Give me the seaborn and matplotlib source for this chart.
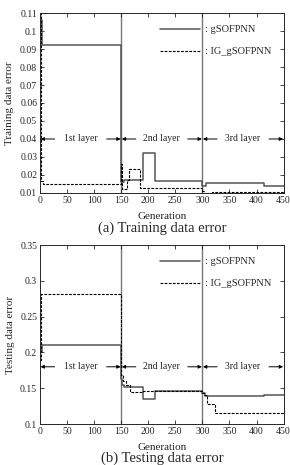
import numpy as np
import pandas as pd
import matplotlib
matplotlib.use('agg')
import matplotlib.pyplot as plt
import seaborn as sns

# training error (top panel)
train_g_gen = [0, 3, 150, 155, 190, 213, 300, 306, 413, 450]
train_g_err = [0.106, 0.092, 0.016, 0.017, 0.032, 0.0165, 0.0137, 0.0156, 0.014, 0.014]
train_ig_gen = [0, 1, 5, 150, 151, 160, 164, 185, 300, 303, 318, 450]
train_ig_err = [0.11, 0.0165, 0.015, 0.026, 0.0122, 0.017, 0.0233, 0.013, 0.011, 0.0102, 0.0108, 0.0108]

# testing error (bottom panel)
test_g_gen = [0, 3, 150, 152, 156, 190, 213, 300, 305, 413, 450]
test_g_err = [0.2, 0.21, 0.163, 0.155, 0.152, 0.1345, 0.146, 0.143, 0.1396, 0.141, 0.141]
test_ig_gen = [0, 2, 150, 153, 158, 166, 190, 300, 303, 309, 323, 450]
test_ig_err = [0.19, 0.282, 0.168, 0.16, 0.155, 0.1445, 0.146, 0.143, 0.14, 0.128, 0.1158, 0.1158]

layer_names = ["1st layer", "2nd layer", "3rd layer"]
layer_bounds = [0, 150, 300, 450]
series_names = [": gSOFPNN", ": IG_gSOFPNN"]

sns.set_style("ticks")
plt.rcParams['font.family'] = ['Liberation Serif', 'DejaVu Serif']
plt.rcParams['xtick.direction'] = 'in'
plt.rcParams['ytick.direction'] = 'in'

fig = plt.figure(figsize=(2.9, 4.65), dpi=100)
ax1 = fig.add_axes([0.138, 0.585, 0.84, 0.387])
ax2 = fig.add_axes([0.138, 0.088, 0.84, 0.385])


def draw_panel(ax, g_gen, g_err, ig_gen, ig_err, ylim, yticks, ylabel, layer_y):
    sns.lineplot(x=g_gen, y=g_err, ax=ax, drawstyle='steps-post', estimator=None,
                 color='#555555', lw=1.1, label=series_names[0])
    sns.lineplot(x=ig_gen, y=ig_err, ax=ax, drawstyle='steps-post', estimator=None,
                 color='black', lw=0.8, ls=(0, (2.5, 1.2)), label=series_names[1])
    for b in layer_bounds[1:3]:
        ax.axvline(b, color='#777777', lw=1.0, zorder=0)
    ax.set_xlim(0, 450)
    ax.set_ylim(*ylim)
    ax.set_xticks(range(0, 451, 50))
    ax.set_yticks(yticks)
    ax.set_yticklabels([f"{t:g}" for t in yticks])
    ax.tick_params(labelsize=7, length=3, width=0.6, top=True, right=True, pad=2)
    ax.set_xlabel("Generation", fontsize=8, labelpad=5)
    ax.set_ylabel(ylabel, fontsize=8, labelpad=4)
    for sp in ax.spines.values():
        sp.set_linewidth(0.7)
    # layer annotations
    for i, name in enumerate(layer_names):
        lo, hi = layer_bounds[i], layer_bounds[i + 1]
        mid = (lo + hi) / 2
        ax.text(mid, layer_y, name, ha='center', va='center', fontsize=7)
        ax.annotate('', xy=(lo + 1, layer_y), xytext=(lo + 27, layer_y),
                    arrowprops=dict(arrowstyle='-|>', color='black', lw=0.7,
                                    mutation_scale=5, shrinkA=0, shrinkB=0))
        ax.annotate('', xy=(hi - 1, layer_y), xytext=(hi - 27, layer_y),
                    arrowprops=dict(arrowstyle='-|>', color='black', lw=0.7,
                                    mutation_scale=5, shrinkA=0, shrinkB=0))
    ax.legend(loc='upper left', bbox_to_anchor=(0.455, 0.985), frameon=False,
              fontsize=7.5, handlelength=3.8, handletextpad=0.5, labelspacing=1.2)


draw_panel(ax1, train_g_gen, train_g_err, train_ig_gen, train_ig_err,
           (0.01, 0.11), [round(0.01 * k, 2) for k in range(1, 12)],
           "Training data error", 0.04)
draw_panel(ax2, test_g_gen, test_g_err, test_ig_gen, test_ig_err,
           (0.1, 0.35), [0.1, 0.15, 0.2, 0.25, 0.3, 0.35],
           "Testing data error", 0.18)

fig.text(0.56, 0.509, "(a) Training data error", ha='center', va='center', fontsize=10.5)
fig.text(0.56, 0.015, "(b) Testing data error", ha='center', va='center', fontsize=10.5)

fig.savefig("out.png", dpi=100)
plt.close(fig)
